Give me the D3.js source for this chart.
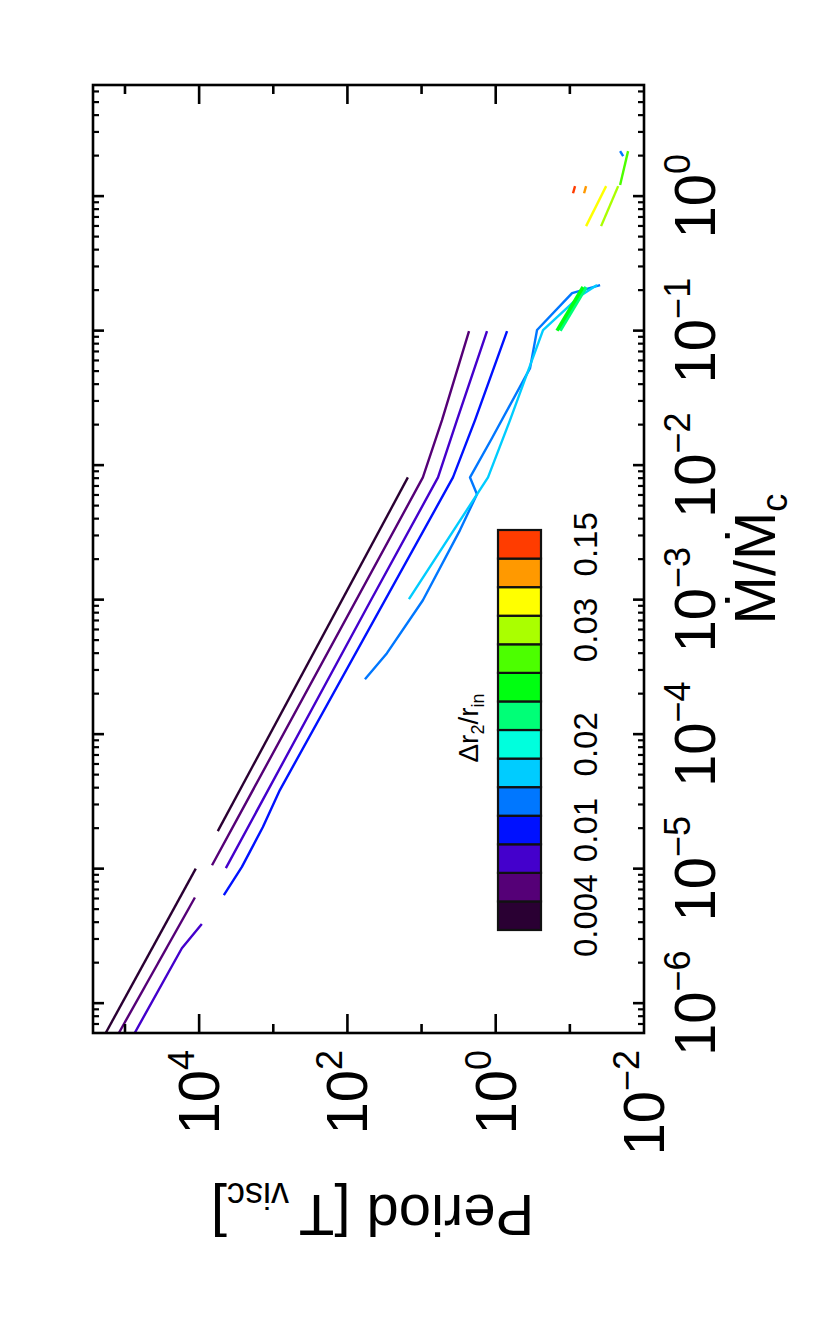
<!DOCTYPE html>
<html>
<head>
<meta charset="utf-8">
<script src="https://cdn.jsdelivr.net/npm/d3@7"></script>
<style>
html, body { margin: 0; padding: 0; background: #fff; }
svg { display: block; }
text { font-family: "Liberation Sans", Arial, Helvetica, sans-serif; fill: #000; }
</style>
</head>
<body>
<div id="chart"></div>
<script>
/*****************************************************
 * Period vs Mdot/Mdot_c  (figure is drawn landscape, then turned 90deg)
 *****************************************************/

// colour bar: delta r2 / r_in
const barColors = ["#2a0033", "#550077", "#4400cc", "#0011ff", "#0077ff", "#00ccff", "#00ffdd",
                   "#00ff77", "#00ff11", "#4cff00", "#aaff00", "#ffff00", "#ff9900", "#ff3c00"];
const barLabels = ["0.004", "0.01", "0.02", "0.03", "0.15"];
const barLabelAt = [0, 3, 6, 10, 13];

// axes
const mdotDomain = [6.0e-7, 6.7];
const periodDomain = [1e-2, 2.7e5];
const mdotTickExp = [-6, -5, -4, -3, -2, -1, 0];
const periodTickExp = [-2, -1, 0, 1, 2, 3, 4, 5];
const periodLabelExp = [-2, 0, 2, 4];

// curves: [Mdot/Mdot_c, Period]
const dark1 = [[6.0e-7, 1.82e5], [1.0e-5, 1.11e4]];
const dark2 = [[1.9e-5, 5.6e3], [8.1e-3, 15.3]];
const purple1 = [[6.0e-7, 1.21e5], [6.1e-6, 1.14e4]];
const purple2 = [[1.06e-5, 6.7e3], [8.1e-3, 9.6], [0.0216, 5.3], [0.099, 2.29]];
const indigo1 = [[6.0e-7, 7.4e4], [2.56e-6, 1.71e4], [3.87e-6, 9.2e3]];
const indigo2 = [[1.01e-5, 4.36e3], [9.6e-4, 49.7], [8.1e-3, 6.0], [0.0216, 3.33], [0.099, 1.31]];
const blue1 = [[6.35e-6, 4.64e3], [1.03e-5, 2.65e3], [2.04e-5, 1.38e3], [3.84e-5, 815],
               [8.1e-3, 3.77], [0.0216, 1.90], [0.099, 0.703]];
const azure1 = [[2.56e-4, 58], [4.0e-4, 29.3], [9.9e-4, 9.6], [3.29e-3, 3.03], [6.08e-3, 1.79],
                [8.1e-3, 2.22], [0.0159, 1.12], [0.0526, 0.344], [0.101, 0.277], [0.190, 0.0933], [0.218, 0.0391]];
const sky1 = [[1.01e-3, 14.8], [8.1e-3, 1.27], [0.0216, 0.641], [0.101, 0.230], [0.181, 0.0728], [0.218, 0.043]];
const spring1 = [[0.1, 0.1355], [0.211, 0.0604]];
const green1 = [[0.1, 0.149], [0.211, 0.0664]];
const lime1 = [[1.21, 0.0210], [2.16, 0.0164]];
const yellowgreen1 = [[0.598, 0.0379], [1.187, 0.0223]];
const yellow1 = [[0.598, 0.0604], [1.187, 0.0324]];
const orange1 = [[1.05, 0.0643], [1.187, 0.0604]];
const red1 = [[1.05, 0.0906], [1.187, 0.0851]];
const azure2 = [[2.16, 0.0210], [1.98, 0.0191]];

const series = [
  { pts: dark1, c: 0 }, { pts: dark2, c: 0 },
  { pts: purple1, c: 1 }, { pts: purple2, c: 1 },
  { pts: indigo1, c: 2 }, { pts: indigo2, c: 2 },
  { pts: blue1, c: 3 },
  { pts: azure1, c: 4 },
  { pts: sky1, c: 5 },
  { pts: spring1, c: 7, w: 3.5 },
  { pts: green1, c: 8, w: 3.5 },
  { pts: lime1, c: 9 },
  { pts: yellowgreen1, c: 10 },
  { pts: yellow1, c: 11 },
  { pts: orange1, c: 12 },
  { pts: red1, c: 13 },
  { pts: azure2, c: 4 }
];

/*****************************************************
 * layout (landscape coordinates)
 *****************************************************/
const W = 1328, H = 830;
const plot = { left: 295, right: 1243, top: 93, bottom: 644 };
const bar = { left: 398, right: 798, top: 498, bottom: 541 };
const BIG = 58, SUP = 36;

const svg = d3.select("#chart").append("svg")
  .attr("width", H)
  .attr("height", W);

const g = svg.append("g")
  .attr("transform", `translate(0,${W}) rotate(-90)`);

const x = d3.scaleLog().domain(mdotDomain).range([plot.left, plot.right]);
const y = d3.scaleLog().domain(periodDomain).range([plot.bottom, plot.top]);

g.append("defs").append("clipPath").attr("id", "clip")
  .append("rect")
  .attr("x", plot.left).attr("y", plot.top)
  .attr("width", plot.right - plot.left).attr("height", plot.bottom - plot.top);

// curves
const line = d3.line().x(d => x(d[0])).y(d => y(d[1]));
g.append("g").attr("clip-path", "url(#clip)")
  .selectAll("path")
  .data(series)
  .enter()
  .append("path")
  .attr("d", d => line(d.pts))
  .attr("fill", "none")
  .attr("stroke", d => barColors[d.c])
  .attr("stroke-width", d => d.w || 2.4)
  .attr("stroke-linejoin", "round");

// frame
g.append("rect")
  .attr("x", plot.left).attr("y", plot.top)
  .attr("width", plot.right - plot.left).attr("height", plot.bottom - plot.top)
  .attr("fill", "none").attr("stroke", "#000").attr("stroke-width", 2.6);

// Mdot ticks (top + bottom)
const mdotMinor = [];
mdotTickExp.concat([-7]).forEach(e => {
  for (let k = 2; k <= 9; k++) {
    const v = k * Math.pow(10, e);
    if (v > mdotDomain[0] && v < mdotDomain[1]) mdotMinor.push(v);
  }
});
const tk = g.append("g").attr("stroke", "#000");
mdotTickExp.forEach(e => {
  const px = x(Math.pow(10, e));
  tk.append("line").attr("x1", px).attr("x2", px).attr("y1", plot.bottom).attr("y2", plot.bottom - 11).attr("stroke-width", 2.6);
  tk.append("line").attr("x1", px).attr("x2", px).attr("y1", plot.top).attr("y2", plot.top + 11).attr("stroke-width", 2.6);
});
mdotMinor.forEach(v => {
  const px = x(v);
  tk.append("line").attr("x1", px).attr("x2", px).attr("y1", plot.bottom).attr("y2", plot.bottom - 6).attr("stroke-width", 2.2);
  tk.append("line").attr("x1", px).attr("x2", px).attr("y1", plot.top).attr("y2", plot.top + 6).attr("stroke-width", 2.2);
});

// Period ticks (left + right): long on even decades
periodTickExp.forEach(e => {
  const py = y(Math.pow(10, e));
  if (py >= plot.bottom - 1 || py <= plot.top + 1) return;
  const len = (e % 2 === 0) ? 19 : 9;
  tk.append("line").attr("x1", plot.left).attr("x2", plot.left + len).attr("y1", py).attr("y2", py).attr("stroke-width", 2.6);
  tk.append("line").attr("x1", plot.right).attr("x2", plot.right - len).attr("y1", py).attr("y2", py).attr("stroke-width", 2.6);
});

function expLabel(sel, e) {
  sel.append("tspan").attr("font-size", BIG).text("10");
  sel.append("tspan").attr("font-size", SUP).attr("dy", -25)
    .text(e < 0 ? "\u2212" + (-e) : String(e));
}

// Mdot labels
mdotTickExp.forEach(e => {
  const t = g.append("text")
    .attr("x", x(Math.pow(10, e)))
    .attr("y", 715)
    .attr("text-anchor", "middle");
  expLabel(t, e);
});

// Period labels
periodLabelExp.forEach(e => {
  const t = g.append("text")
    .attr("x", 278)
    .attr("y", y(Math.pow(10, e)) + 20)
    .attr("text-anchor", "end");
  expLabel(t, e);
});

// axis titles
const xt = g.append("text")
  .attr("x", (plot.left + plot.right) / 2)
  .attr("y", 775)
  .attr("text-anchor", "middle")
  .attr("font-size", BIG);
xt.append("tspan").text("\u1E40/\u1E40");
xt.append("tspan").attr("font-size", SUP).attr("dy", 12).text("c");

const yt = g.append("text")
  .attr("transform", `translate(133,${(plot.top + plot.bottom) / 2 + 4}) rotate(-90)`)
  .attr("text-anchor", "middle")
  .attr("font-size", BIG);
yt.append("tspan").text("Period [T");
yt.append("tspan").attr("font-size", SUP).attr("dy", 12).text(" visc");
yt.append("tspan").attr("dy", -12).text("]");

/*****************************************************
 * colour bar
 *****************************************************/
const bx = d3.scaleBand().domain(d3.range(barColors.length)).range([bar.left, bar.right]);
g.append("g").selectAll("rect")
  .data(barColors)
  .enter()
  .append("rect")
  .attr("x", (d, i) => bx(i))
  .attr("y", bar.top)
  .attr("width", bx.bandwidth())
  .attr("height", bar.bottom - bar.top)
  .attr("fill", d => d)
  .attr("stroke", "#111")
  .attr("stroke-width", 2.2);

g.append("g").selectAll("text")
  .data(barLabels)
  .enter()
  .append("text")
  .attr("x", (d, i) => bx(barLabelAt[i]) + bx.bandwidth() / 2)
  .attr("y", 597)
  .attr("text-anchor", "middle")
  .attr("font-size", 33)
  .text(d => d);

const bt = g.append("text")
  .attr("x", (bar.left + bar.right) / 2 + 2)
  .attr("y", 478)
  .attr("text-anchor", "middle")
  .attr("font-size", 28);
bt.append("tspan").text("\u0394r");
bt.append("tspan").attr("font-size", 18).attr("dy", 6).text("2");
bt.append("tspan").attr("dy", -6).text("/r");
bt.append("tspan").attr("font-size", 18).attr("dy", 6).text("in");
</script>
</body>
</html>
